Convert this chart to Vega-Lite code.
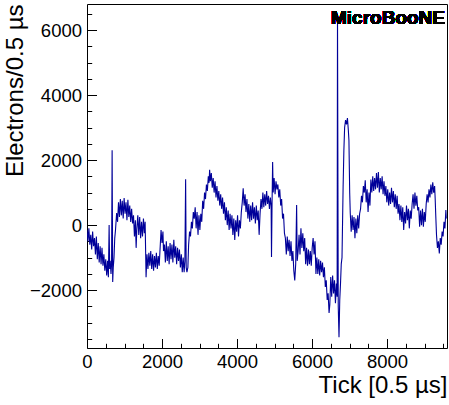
{
  "$schema": "https://vega.github.io/schema/vega-lite/v6.json",
  "autosize": {"type": "none"},
  "padding": {"left": 87, "top": 4, "right": 2, "bottom": 57},
  "width": 360,
  "height": 344,
  "config": {
    "font": "Liberation Sans",
    "view": {"stroke": "#000000", "strokeWidth": 1},
    "axis": {
      "domain": false,
      "labelColor": "#000000", "titleColor": "#000000",
      "labelFont": "Liberation Sans", "titleFont": "Liberation Sans",
      "labelFontSize": 18.5, "titleFontSize": 24, "titleFontWeight": "normal",
      "grid": false, "zindex": 1, "format": "d"
    }
  },
  "data": {"values": [
    {"t":0,"v":-150},{"t":25,"v":-500},{"t":50,"v":-100},{"t":75,"v":-600},{"t":100,"v":-300},{"t":125,"v":-750},{"t":150,"v":-200},{"t":175,"v":-650},{"t":200,"v":-400},{"t":225,"v":-900},{"t":250,"v":-350},
    {"t":275,"v":-1050},{"t":300,"v":-550},{"t":325,"v":-1150},{"t":350,"v":-650},{"t":375,"v":-1200},{"t":400,"v":-700},{"t":425,"v":-1250},
    {"t":450,"v":-900},{"t":475,"v":-1400},{"t":500,"v":-1050},{"t":525,"v":-1550},{"t":550,"v":-1100},{"t":570,"v":-1600},{"t":590,"v":0},{"t":605,"v":-1350},{"t":620,"v":-1100},{"t":640,"v":-1500},{"t":655,"v":-1200},{"t":670,"v":2300},{"t":685,"v":-1750},{"t":700,"v":-1300},{"t":720,"v":-1000},{"t":740,"v":-400},{"t":760,"v":-150},{"t":790,"v":370},
    {"t":815,"v":100},{"t":840,"v":700},{"t":865,"v":250},{"t":890,"v":800},{"t":915,"v":300},{"t":940,"v":750},{"t":965,"v":200},{"t":990,"v":830},{"t":1015,"v":350},{"t":1040,"v":700},{"t":1065,"v":150},{"t":1090,"v":780},{"t":1115,"v":250},{"t":1140,"v":600},{"t":1165,"v":100},{"t":1190,"v":500},{"t":1215,"v":50},{"t":1240,"v":300},
    {"t":1265,"v":-350},{"t":1290,"v":150},{"t":1310,"v":-700},{"t":1330,"v":-100},{"t":1355,"v":300},{"t":1380,"v":-300},{"t":1405,"v":250},{"t":1430,"v":-400},{"t":1455,"v":100},{"t":1480,"v":-350},{"t":1505,"v":200},{"t":1530,"v":-250},{"t":1550,"v":100},{"t":1575,"v":-1600},
    {"t":1600,"v":-900},{"t":1625,"v":-1350},{"t":1650,"v":-850},{"t":1675,"v":-1250},{"t":1700,"v":-800},{"t":1725,"v":-1350},{"t":1750,"v":-900},{"t":1775,"v":-1400},{"t":1800,"v":-950},{"t":1825,"v":-1300},{"t":1850,"v":-850},{"t":1875,"v":-1350},{"t":1900,"v":-950},{"t":1925,"v":-1250},{"t":1950,"v":-700},{"t":1975,"v":-150},{"t":2000,"v":-550},{"t":2025,"v":-200},{"t":2040,"v":-800},
    {"t":2065,"v":-600},{"t":2090,"v":-1150},{"t":2115,"v":-500},{"t":2140,"v":-1100},{"t":2165,"v":-650},{"t":2190,"v":-1200},{"t":2215,"v":-550},{"t":2240,"v":-1050},{"t":2265,"v":-600},{"t":2290,"v":-1150},{"t":2315,"v":-450},{"t":2340,"v":-1000},{"t":2365,"v":-650},{"t":2390,"v":-1200},{"t":2415,"v":-700},{"t":2440,"v":-1100},{"t":2465,"v":-750},{"t":2490,"v":-1300},{"t":2515,"v":-900},{"t":2540,"v":-1450},{"t":2565,"v":-1000},{"t":2590,"v":-1450},{"t":2610,"v":-1100},{"t":2630,"v":1410},{"t":2645,"v":-1300},{"t":2665,"v":-1450},{"t":2690,"v":-1300},
    {"t":2710,"v":-600},{"t":2735,"v":-200},{"t":2760,"v":-350},{"t":2785,"v":100},{"t":2810,"v":-100},{"t":2835,"v":400},{"t":2860,"v":200},
    {"t":2885,"v":550},{"t":2910,"v":-100},{"t":2935,"v":400},{"t":2960,"v":-300},{"t":2985,"v":300},{"t":3010,"v":-150},{"t":3035,"v":350},{"t":3060,"v":100},
    {"t":3085,"v":750},{"t":3110,"v":500},{"t":3135,"v":1000},{"t":3160,"v":800},{"t":3185,"v":1250},{"t":3210,"v":1050},{"t":3235,"v":1500},{"t":3255,"v":1300},{"t":3270,"v":1700},{"t":3290,"v":1350},
    {"t":3315,"v":1600},{"t":3340,"v":1150},{"t":3365,"v":1450},{"t":3390,"v":1000},{"t":3415,"v":1350},{"t":3440,"v":850},{"t":3465,"v":1200},{"t":3490,"v":750},{"t":3515,"v":1050},{"t":3540,"v":600},{"t":3565,"v":950},{"t":3590,"v":500},{"t":3615,"v":850},{"t":3640,"v":350},{"t":3665,"v":700},
    {"t":3690,"v":150},{"t":3715,"v":550},{"t":3740,"v":0},{"t":3765,"v":450},{"t":3790,"v":-150},{"t":3815,"v":350},{"t":3840,"v":-100},{"t":3865,"v":300},{"t":3890,"v":-300},{"t":3915,"v":200},{"t":3940,"v":-460},{"t":3965,"v":150},{"t":3990,"v":-200},{"t":4015,"v":300},{"t":4040,"v":-350},{"t":4065,"v":150},{"t":4090,"v":-100},{"t":4115,"v":400},
    {"t":4140,"v":700},{"t":4165,"v":1130},{"t":4190,"v":600},{"t":4215,"v":950},{"t":4240,"v":400},{"t":4265,"v":800},
    {"t":4290,"v":200},{"t":4315,"v":650},{"t":4340,"v":100},{"t":4365,"v":600},{"t":4390,"v":150},{"t":4415,"v":700},{"t":4440,"v":200},{"t":4465,"v":550},{"t":4490,"v":50},{"t":4515,"v":600},{"t":4540,"v":150},{"t":4565,"v":450},{"t":4590,"v":-300},{"t":4615,"v":350},{"t":4640,"v":800},{"t":4665,"v":500},
    {"t":4690,"v":1000},{"t":4715,"v":550},{"t":4740,"v":950},{"t":4765,"v":600},{"t":4790,"v":1050},{"t":4815,"v":650},{"t":4840,"v":900},{"t":4865,"v":500},{"t":4890,"v":850},{"t":4910,"v":600},{"t":4920,"v":-980},{"t":4935,"v":700},{"t":4950,"v":1940},{"t":4965,"v":1000},
    {"t":4990,"v":1450},{"t":5015,"v":950},{"t":5040,"v":1350},{"t":5065,"v":1100},{"t":5090,"v":1250},{"t":5115,"v":850},{"t":5140,"v":1100},
    {"t":5165,"v":600},{"t":5190,"v":800},{"t":5215,"v":200},{"t":5240,"v":350},{"t":5265,"v":-250},
    {"t":5290,"v":-400},{"t":5315,"v":-900},{"t":5340,"v":-350},{"t":5365,"v":-800},{"t":5390,"v":-450},{"t":5415,"v":-950},{"t":5440,"v":-500},{"t":5465,"v":-1100},{"t":5490,"v":-800},{"t":5515,"v":-1400},{"t":5540,"v":-1700},{"t":5565,"v":-1200},{"t":5590,"v":620},{"t":5605,"v":-1100},{"t":5630,"v":-800},{"t":5655,"v":-300},{"t":5680,"v":-900},{"t":5705,"v":-100},{"t":5730,"v":-700},{"t":5755,"v":-250},{"t":5780,"v":-800},{"t":5805,"v":-400},
    {"t":5830,"v":-1200},{"t":5855,"v":-700},{"t":5880,"v":-1250},{"t":5905,"v":-750},{"t":5930,"v":-1200},{"t":5955,"v":-800},{"t":5980,"v":-1250},{"t":6005,"v":-700},{"t":6030,"v":-400},{"t":6055,"v":-900},{"t":6080,"v":-500},
    {"t":6105,"v":-1500},{"t":6130,"v":-1000},{"t":6155,"v":-1500},{"t":6180,"v":-1050},{"t":6205,"v":-1550},{"t":6230,"v":-1100},{"t":6255,"v":-1450},{"t":6280,"v":-1150},{"t":6305,"v":-1600},{"t":6330,"v":-1300},
    {"t":6355,"v":-1900},{"t":6380,"v":-1700},{"t":6405,"v":-2300},{"t":6430,"v":-2100},{"t":6455,"v":-2700},{"t":6475,"v":-2450},
    {"t":6500,"v":-1600},{"t":6525,"v":-2200},{"t":6550,"v":-1550},{"t":6575,"v":-2100},{"t":6600,"v":-1700},{"t":6625,"v":-2400},{"t":6650,"v":-1800},{"t":6670,"v":-2200},{"t":6680,"v":6500},{"t":6700,"v":-2500},{"t":6720,"v":-3450},{"t":6740,"v":-2300},{"t":6760,"v":-1800},{"t":6780,"v":-1200},{"t":6800,"v":-1000},{"t":6830,"v":1200},{"t":6850,"v":2300},{"t":6870,"v":3000},{"t":6895,"v":3230},{"t":6920,"v":3100},{"t":6945,"v":3290},{"t":6970,"v":2900},{"t":6985,"v":2600},{"t":6995,"v":1800},{"t":7005,"v":1000},{"t":7020,"v":370},
    {"t":7045,"v":-200},{"t":7070,"v":300},{"t":7095,"v":-150},{"t":7120,"v":250},{"t":7145,"v":-400},{"t":7170,"v":200},{"t":7195,"v":-250},{"t":7220,"v":300},{"t":7245,"v":-100},{"t":7270,"v":350},
    {"t":7295,"v":500},{"t":7320,"v":900},{"t":7345,"v":700},{"t":7370,"v":1200},{"t":7395,"v":1000},{"t":7420,"v":1380},
    {"t":7445,"v":700},{"t":7470,"v":1100},{"t":7495,"v":400},{"t":7520,"v":1000},{"t":7545,"v":600},
    {"t":7570,"v":1400},{"t":7595,"v":1000},{"t":7620,"v":1500},{"t":7645,"v":1050},{"t":7670,"v":1450},{"t":7695,"v":1100},{"t":7720,"v":1600},{"t":7745,"v":1150},{"t":7770,"v":1630},{"t":7795,"v":1000},{"t":7820,"v":1450},{"t":7845,"v":1100},{"t":7870,"v":1500},{"t":7895,"v":950},{"t":7920,"v":1350},{"t":7945,"v":900},
    {"t":7970,"v":1200},{"t":7995,"v":700},{"t":8020,"v":1100},{"t":8045,"v":600},{"t":8070,"v":1000},{"t":8095,"v":650},{"t":8120,"v":1150},{"t":8145,"v":700},{"t":8170,"v":1050},{"t":8195,"v":550},{"t":8220,"v":950},{"t":8245,"v":500},{"t":8270,"v":900},{"t":8295,"v":350},
    {"t":8320,"v":650},{"t":8345,"v":150},{"t":8370,"v":600},{"t":8395,"v":100},{"t":8420,"v":550},{"t":8445,"v":-150},{"t":8470,"v":400},{"t":8495,"v":50},{"t":8520,"v":600},{"t":8545,"v":150},{"t":8570,"v":500},{"t":8595,"v":-100},{"t":8620,"v":450},{"t":8645,"v":200},{"t":8670,"v":650},
    {"t":8695,"v":950},{"t":8720,"v":500},{"t":8745,"v":1000},{"t":8770,"v":600},{"t":8795,"v":900},{"t":8820,"v":450},
    {"t":8845,"v":550},{"t":8870,"v":-50},{"t":8895,"v":450},{"t":8920,"v":0},{"t":8945,"v":500},{"t":8970,"v":-50},{"t":8995,"v":400},{"t":9020,"v":100},
    {"t":9045,"v":650},{"t":9070,"v":950},{"t":9095,"v":700},{"t":9120,"v":1100},{"t":9145,"v":850},{"t":9170,"v":1250},{"t":9195,"v":950},{"t":9220,"v":1320},{"t":9245,"v":1000},{"t":9270,"v":1200},{"t":9285,"v":800},
    {"t":9300,"v":300},{"t":9320,"v":-300},{"t":9345,"v":-700},{"t":9370,"v":-500},{"t":9395,"v":-870},{"t":9420,"v":-400},{"t":9445,"v":-600},{"t":9470,"v":-200},{"t":9495,"v":-350},{"t":9520,"v":100},{"t":9545,"v":-100},{"t":9570,"v":460},{"t":9580,"v":200}
  ]},
  "resolve": {"axis": {"x": "independent", "y": "independent"}},
  "layer": [
    {
      "mark": {"type": "line", "color": "#000099", "strokeWidth": 1.1, "clip": true},
      "encoding": {
        "x": {"field": "t", "type": "quantitative",
              "scale": {"domain": [0, 9600], "nice": false, "zero": false},
              "axis": {"orient": "bottom", "title": "Tick [0.5 µs]", "titleAnchor": "end", "titleAlign": "right",
                       "values": [0, 2000, 4000, 6000, 8000], "offset": -9.5,
                       "ticks": true, "tickSize": 9.5, "tickColor": "#000000", "tickWidth": 1, "tickOpacity": 1,
                       "labelPadding": 4.5, "titlePadding": 2,
                       "labelFlush": false, "labelOverlap": false}},
        "y": {"field": "v", "type": "quantitative",
              "scale": {"domain": [-3780, 6800], "nice": false, "zero": false},
              "axis": {"orient": "left", "title": "Electrons/0.5 µs", "titleAnchor": "end",
                       "values": [-2000, 0, 2000, 4000, 6000], "offset": -9.5,
                       "ticks": true, "tickSize": 9.5, "tickColor": "#000000", "tickWidth": 1, "tickOpacity": 1,
                       "labelPadding": 5.5, "titlePadding": 2,
                       "labelFlush": false, "labelOverlap": false}}
      }
    },
    {
      "mark": {"type": "text", "text": "MicroBooNE", "font": "Liberation Sans", "fontWeight": "bold", "fontSize": 19,
               "align": "right", "baseline": "top", "dx": -2, "dy": 5, "color": "#000000"},
      "encoding": {
        "x": {"datum": 9600, "type": "quantitative",
              "axis": {"orient": "bottom", "title": null, "labels": false,
                       "values": [500, 1000, 1500, 2500, 3000, 3500, 4500, 5000, 5500, 6500, 7000, 7500, 8500, 9000, 9500], "offset": -4.7,
                       "ticks": true, "tickSize": 4.7, "tickColor": "#000000", "tickWidth": 1, "tickOpacity": 1}},
        "y": {"datum": 6800, "type": "quantitative",
              "axis": {"orient": "left", "title": null, "labels": false,
                       "values": [-3500, -3000, -2500, -1500, -1000, -500, 500, 1000, 1500, 2500, 3000, 3500, 4500, 5000, 5500, 6500], "offset": -4.7,
                       "ticks": true, "tickSize": 4.7, "tickColor": "#000000", "tickWidth": 1, "tickOpacity": 1}}
      }
    }
  ]
}
